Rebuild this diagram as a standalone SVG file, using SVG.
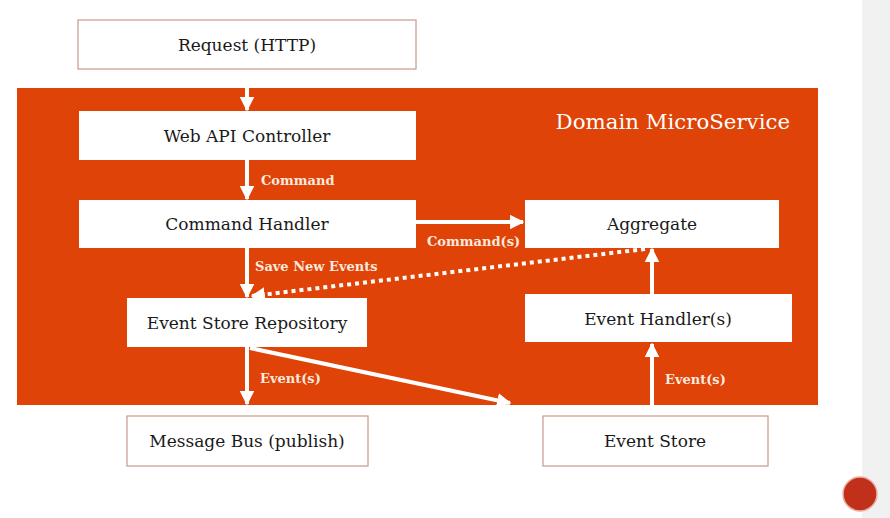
<svg xmlns="http://www.w3.org/2000/svg" width="890" height="518" viewBox="0 0 890 518">
<defs>
<style>
.box{fill:#fff}
.obox{fill:#fff;stroke:#c9988a;stroke-width:1.2}
.t{font-family:"DejaVu Serif","Liberation Serif",serif;font-size:17px;fill:#1a1a1a;text-anchor:middle}
.lbl{font-family:"DejaVu Serif","Liberation Serif",serif;font-size:13px;font-weight:bold;fill:#fbe9df}
.ln{stroke:#fff;stroke-width:4;fill:none}
</style>
<marker id="ah" viewBox="0 0 10 10" refX="9" refY="5" markerWidth="3.6" markerHeight="3.6" orient="auto" markerUnits="strokeWidth">
<path d="M0,0 L10,5 L0,10 Z" fill="#fff"/>
</marker>
</defs>
<rect width="890" height="518" fill="#fff"/>
<rect x="862" y="0" width="28" height="518" fill="#f1f1f1"/>
<circle cx="860" cy="494" r="17" fill="#c0301a" stroke="#e8b0a0" stroke-width="1.5"/>
<g id="microservice">
<rect x="17" y="88" width="801" height="317" fill="#df4307"/>
<text x="790" y="129" style="font-family:'DejaVu Serif','Liberation Serif',serif;font-size:21.3px;fill:#fff;text-anchor:end">Domain MicroService</text>
</g>
<g id="request"><rect class="obox" x="78" y="20" width="338" height="49"/><text class="t" x="247" y="51">Request (HTTP)</text></g>
<g id="webapi"><rect class="box" x="79" y="111" width="337" height="49"/><text class="t" x="247" y="142">Web API Controller</text></g>
<g id="cmdhandler"><rect class="box" x="79" y="200" width="337" height="48"/><text class="t" x="247" y="230">Command Handler</text></g>
<g id="aggregate"><rect class="box" x="525" y="200" width="254" height="48"/><text class="t" x="652" y="230">Aggregate</text></g>
<g id="eventhandlers"><rect class="box" x="525" y="294" width="267" height="48"/><text class="t" x="658" y="325">Event Handler(s)</text></g>
<g id="esrepo"><rect class="box" x="127" y="298" width="240" height="49"/><text class="t" x="247" y="329">Event Store Repository</text></g>
<g id="msgbus"><rect class="obox" x="127" y="416" width="241" height="50"/><text class="t" x="247" y="447">Message Bus (publish)</text></g>
<g id="eventstore"><rect class="obox" x="543" y="416" width="225" height="50"/><text class="t" x="655" y="447">Event Store</text></g>
<g id="connectors">
<line class="ln" x1="247" y1="88" x2="247" y2="110" marker-end="url(#ah)"/>
<line class="ln" x1="247" y1="160" x2="247" y2="199" marker-end="url(#ah)"/>
<line class="ln" x1="416" y1="222" x2="523" y2="222" marker-end="url(#ah)"/>
<line class="ln" x1="247" y1="248" x2="247" y2="297" marker-end="url(#ah)"/>
<line class="ln" x1="645" y1="249" x2="252" y2="296" stroke-dasharray="4 4" marker-end="url(#ah)"/>
<line class="ln" x1="652" y1="294" x2="652" y2="249" marker-end="url(#ah)"/>
<line class="ln" x1="247" y1="347" x2="247" y2="404" marker-end="url(#ah)"/>
<line class="ln" x1="250" y1="348" x2="510" y2="403" marker-end="url(#ah)"/>
<line class="ln" x1="652" y1="405" x2="652" y2="344" marker-end="url(#ah)"/>
<text class="lbl" x="261" y="185">Command</text>
<text class="lbl" x="427" y="246">Command(s)</text>
<text class="lbl" x="255" y="271">Save New Events</text>
<text class="lbl" x="260" y="383">Event(s)</text>
<text class="lbl" x="665" y="384">Event(s)</text>
</g>
</svg>
